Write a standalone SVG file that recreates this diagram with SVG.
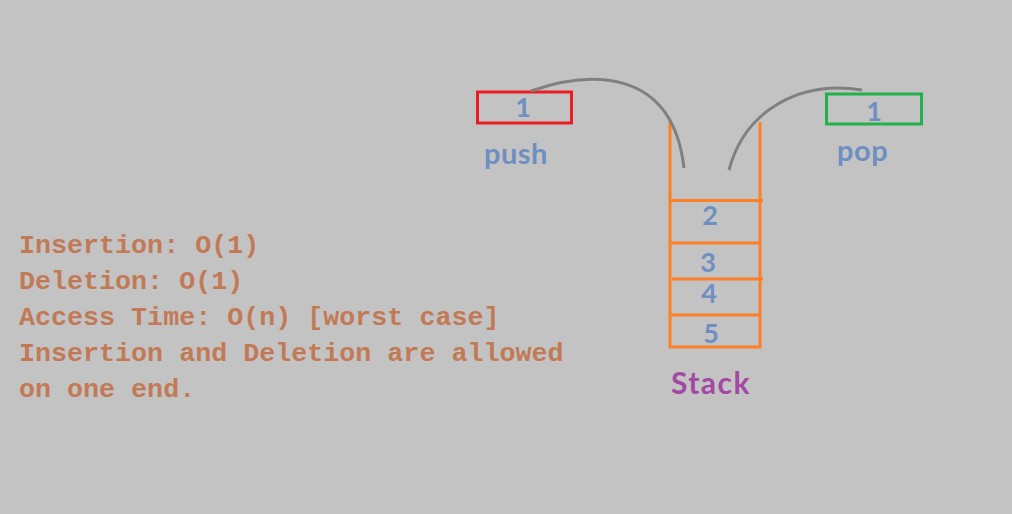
<svg xmlns="http://www.w3.org/2000/svg" width="1012" height="514" viewBox="0 0 1012 514">
<style>
.lbl{font-family:"Lato","Open Sans",sans-serif;font-weight:bold;fill:#6F8FC2;}
.num{font-size:27px;text-anchor:middle;}
.info{font-family:"Liberation Mono","DejaVu Sans Mono",monospace;font-weight:bold;font-size:26.7px;fill:#C27A56;}
.st{stroke:#FF7F27;stroke-width:3;fill:none;}
.cv{stroke:#808080;stroke-width:3;fill:none;}
</style>
<rect width="1012" height="514" fill="#C3C3C3"/>
<g id="push">
<rect x="477.5" y="92" width="94" height="31" fill="none" stroke="#ED1C24" stroke-width="3"/>
<text class="lbl num" x="523" y="117">1</text>
<text class="lbl" x="484" y="164" font-size="29" letter-spacing="0.5">push</text>
</g>
<g id="pop">
<rect x="826.5" y="94" width="95" height="30" fill="none" stroke="#22B14C" stroke-width="3"/>
<text class="lbl num" x="874" y="121">1</text>
<text class="lbl" x="837" y="161" font-size="29" letter-spacing="0.5">pop</text>
</g>
<g id="stack">
<path class="st" d="M670,122 V347 H760 V122"/>
<path class="st" d="M670,200.5 H763 M670,243 H760 M672,279 H763 M670,315 H760"/>
<text class="lbl num" x="710" y="225">2</text>
<text class="lbl num" x="708" y="272">3</text>
<text class="lbl num" x="709" y="303">4</text>
<text class="lbl num" x="711" y="343">5</text>
<text x="711" y="394" text-anchor="middle" font-family="Lato,'Open Sans',sans-serif" font-weight="bold" font-size="30" letter-spacing="1.5" fill="#A349A4">Stack</text>
</g>
<g id="connectors">
<path class="cv" d="M531,91 C585,72 672,64 684,168"/>
<path class="cv" d="M729,170 C745,110 800,80 862,90"/>
</g>
<g id="info">
<text class="info" x="19" y="253">Insertion: O(1)</text>
<text class="info" x="19" y="289">Deletion: O(1)</text>
<text class="info" x="19" y="325">Access Time: O(n) [worst case]</text>
<text class="info" x="19" y="361">Insertion and Deletion are allowed</text>
<text class="info" x="19" y="397">on one end.</text>
</g>
</svg>
